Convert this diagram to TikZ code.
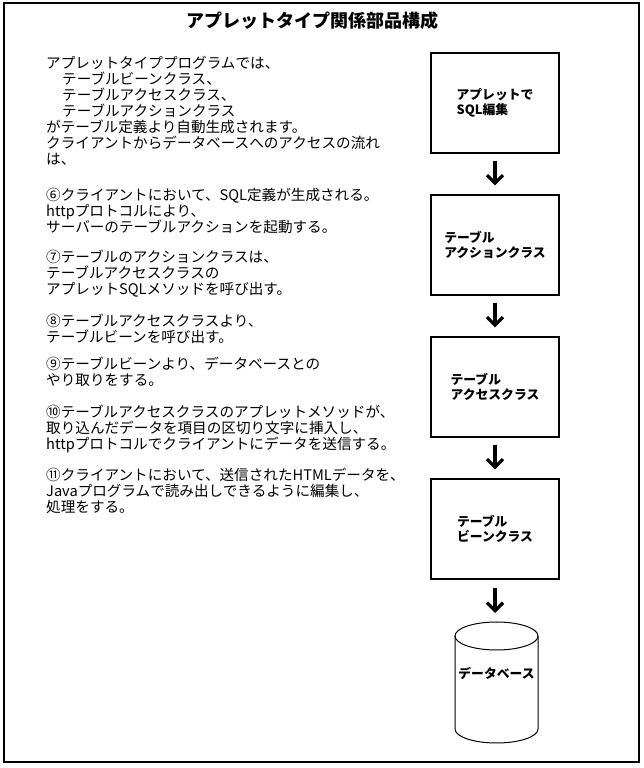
\documentclass[tikz,border=0pt]{standalone}
\usepackage{fontspec}
\setmainfont{Noto Sans CJK JP}
\usetikzlibrary{arrows.meta}
\begin{document}
\begin{tikzpicture}[x=1pt,y=1pt,
  box/.style={draw, line width=1.2pt, minimum width=128pt, minimum height=100pt, inner sep=0pt, align=left, font=\bfseries\fontsize{12.8}{15}\selectfont},
  para/.style={anchor=north west, inner sep=0pt, align=left, font=\fontsize{14.6}{16}\selectfont},
  arr/.style={line width=3.2pt, -{Straight Barb[length=8pt,width=16pt]}},
  dbline/.style={line width=1pt}]
\useasboundingbox (0,0) rectangle (643,768);
\draw[line width=1.8pt] (4,6) rectangle (639,765);
\node[font=\bfseries\fontsize{18}{20}\selectfont] (title) at (312,747) {アプレットタイプ関係部品構成};
% text paragraphs
\node[para] (p1) at (46,712) {アプレットタイププログラムでは、\\
\hspace*{16pt}テーブルビーンクラス、\\
\hspace*{16pt}テーブルアクセスクラス、\\
\hspace*{16pt}テーブルアクションクラス\\
がテーブル定義より自動生成されます。\\
クライアントからデータベースへのアクセスの流れ\\
は、};
\node[para] (p6) at (46,580) {⑥クライアントにおいて、SQL定義が生成される。\\
httpプロトコルにより、\\
サーバーのテーブルアクションを起動する。};
\node[para] (p7) at (46,518) {⑦テーブルのアクションクラスは、\\
テーブルアクセスクラスの\\
アプレットSQLメソッドを呼び出す。};
\node[para] (p8) at (46,454) {⑧テーブルアクセスクラスより、\\
テーブルビーンを呼び出す。};
\node[para] (p9) at (46,411) {⑨テーブルビーンより、データベースとの\\
やり取りをする。};
\node[para] (p10) at (46,363.5) {⑩テーブルアクセスクラスのアプレットメソッドが、\\
取り込んだデータを項目の区切り文字に挿入し、\\
httpプロトコルでクライアントにデータを送信する。};
\node[para] (p11) at (46,300.5) {⑪クライアントにおいて、送信されたHTMLデータを、\\
Javaプログラムで読み出しできるように編集し、\\
処理をする。};
% boxes
\node[box] (b1) at (495,665) {アプレットで\\SQL編集};
\node[box] (b2) at (495,523) {テーブル\\アクションクラス};
\node[box] (b3) at (495,381) {テーブル\\アクセスクラス};
\node[box] (b4) at (495,239) {テーブル\\ビーンクラス};
% database cylinder
\draw[dbline] (455,132) -- (455,39) arc[start angle=180, end angle=360, x radius=41.5pt, y radius=14pt] -- (538,132);
\draw[dbline] (496.5,132) ellipse [x radius=41.5pt, y radius=14pt];
\coordinate (dbtop) at (495,146);
\node[font=\bfseries\fontsize{12.8}{15}\selectfont] (db) at (496.5,95) {データベース};
% arrows
\draw[arr] ([yshift=-7pt]b1.south) -- ([yshift=9pt]b2.north);
\draw[arr] ([yshift=-7pt]b2.south) -- ([yshift=9pt]b3.north);
\draw[arr] ([yshift=-7pt]b3.south) -- ([yshift=9pt]b4.north);
\draw[arr] ([yshift=-8pt]b4.south) -- ([yshift=9pt]dbtop);
\end{tikzpicture}
\end{document}
